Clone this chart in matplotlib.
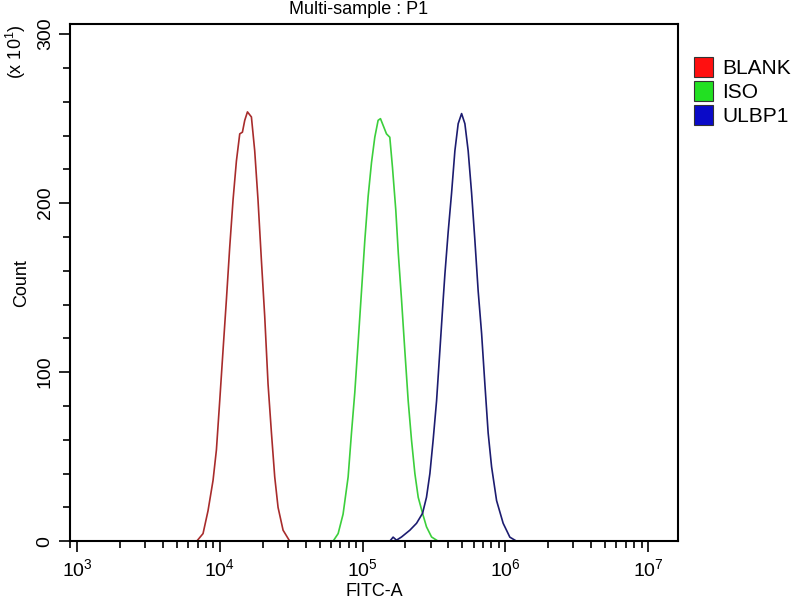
import matplotlib
matplotlib.use("Agg")
import matplotlib.pyplot as plt
from matplotlib.patches import Patch
from matplotlib.ticker import MultipleLocator, FixedLocator

plt.rcParams['font.family'] = ['Liberation Sans', 'DejaVu Sans']
plt.rcParams['mathtext.default'] = 'regular'

# histogram traces (FITC-A value, count in units of 10)
blank_x = [6.90e3, 7.64e3, 8.28e3, 8.98e3, 9.48e3, 1.00e4, 1.055e4, 1.114e4, 1.175e4,
           1.240e4, 1.309e4, 1.381e4, 1.442e4, 1.497e4, 1.564e4, 1.667e4, 1.758e4,
           1.854e4, 1.959e4, 2.066e4, 2.180e4, 2.303e4, 2.428e4, 2.562e4, 2.778e4, 3.094e4]
blank_y = [0, 4.5, 18, 36, 54, 83, 113, 143, 174, 202, 225, 241, 242, 249, 254, 251, 231,
           202, 166, 133, 93, 64, 38, 20, 6.5, 0]

iso_x = [6.22e4, 6.75e4, 7.31e4, 7.93e4, 8.37e4, 8.83e4, 9.31e4, 9.84e4, 1.038e5, 1.095e5,
         1.156e5, 1.219e5, 1.286e5, 1.336e5, 1.410e5, 1.472e5, 1.553e5, 1.622e5, 1.710e5,
         1.782e5, 1.876e5, 1.978e5, 2.089e5, 2.203e5, 2.327e5, 2.455e5, 2.633e5, 2.806e5,
         3.045e5, 3.388e5]
iso_y = [0, 4.5, 16, 38, 64, 88, 117, 148, 178, 204, 224, 239, 249, 250, 245, 241, 239, 221,
         196, 170, 143, 113, 83, 60, 40, 26, 16.5, 8.5, 2.5, 0]

ulbp1_x = [1.322e5, 1.553e5, 1.638e5, 1.730e5, 1.876e5, 2.145e5, 2.390e5, 2.633e5, 2.806e5,
           2.964e5, 3.125e5, 3.301e5, 3.483e5, 3.673e5, 3.776e5, 3.981e5, 4.205e5, 4.436e5,
           4.677e5, 4.943e5, 5.212e5, 5.495e5, 5.807e5, 6.124e5, 6.457e5, 6.823e5, 7.194e5,
           7.586e5, 8.017e5, 8.690e5, 9.661e5, 1.076e6, 1.200e6]
ulbp1_y = [0, 0, 2.4, 0.6, 2.5, 6.5, 10.6, 16.5, 26, 40, 60, 83, 113, 143, 158, 183, 206, 231,
           247, 253, 247, 231, 206, 178, 148, 123, 93, 64, 44, 24, 10.6, 2.4, 0]

labels = ["BLANK", "ISO", "ULBP1"]
line_colors = ["#a82c2c", "#3ccf3c", "#1c1c70"]
box_colors = ["#ff1010", "#22e022", "#0a0ac8"]

x_major = [1e3, 1e4, 1e5, 1e6, 1e7]
x_major_labels = [r"$10^{3}$", r"$10^{4}$", r"$10^{5}$", r"$10^{6}$", r"$10^{7}$"]
y_major = [0, 100, 200, 300]

fig = plt.figure(figsize=(8, 6), dpi=100)
ax = fig.add_axes([0.088, 0.098, 0.7595, 0.862])

ax.plot(blank_x, blank_y, color=line_colors[0], lw=1.2)
ax.plot(iso_x, iso_y, color=line_colors[1], lw=1.2)
ax.plot(ulbp1_x, ulbp1_y, color=line_colors[2], lw=1.2)

ax.set_xscale("log")
ax.set_xlim(900, 1.62e7)
ax.set_ylim(0, 306)

# x ticks
ax.xaxis.set_major_locator(FixedLocator(x_major))
ax.set_xticklabels(x_major_labels, fontsize=14)
minor = [m * 10 ** e for e in range(2, 8) for m in range(2, 10)]
ax.xaxis.set_minor_locator(FixedLocator(minor))
ax.xaxis.set_minor_formatter(plt.NullFormatter())

# y ticks
ax.yaxis.set_major_locator(FixedLocator(y_major))
ax.yaxis.set_minor_locator(MultipleLocator(20))
ax.set_yticklabels([str(v) for v in y_major], fontsize=14, rotation=90, va="center")

ax.tick_params(which="major", direction="out", length=8, width=1.2, pad=4)
ax.tick_params(which="minor", direction="out", length=5, width=1.2)
for s in ax.spines.values():
    s.set_linewidth(1.5)

ax.set_xlabel("FITC-A", fontsize=13, labelpad=2)
ax.set_ylabel("Count", fontsize=13, labelpad=5)

fig.text(16 / 800, 1 - 52 / 600, r"(x $10^{1}$)", rotation=90, fontsize=13,
         ha="center", va="center")
fig.text(359 / 800, 1 - 10 / 600, "Multi-sample : P1", fontsize=13,
         ha="center", va="center")

handles = [Patch(facecolor=c, edgecolor="#333333", lw=0.8) for c in box_colors]
fig.legend(handles, labels, loc="upper left", bbox_to_anchor=(0.868, 0.905),
           frameon=False, fontsize=15, handlelength=0.9, handleheight=1.1,
           handletextpad=0.45, labelspacing=0.15, borderpad=0, borderaxespad=0)

fig.savefig("out.png", dpi=100)
